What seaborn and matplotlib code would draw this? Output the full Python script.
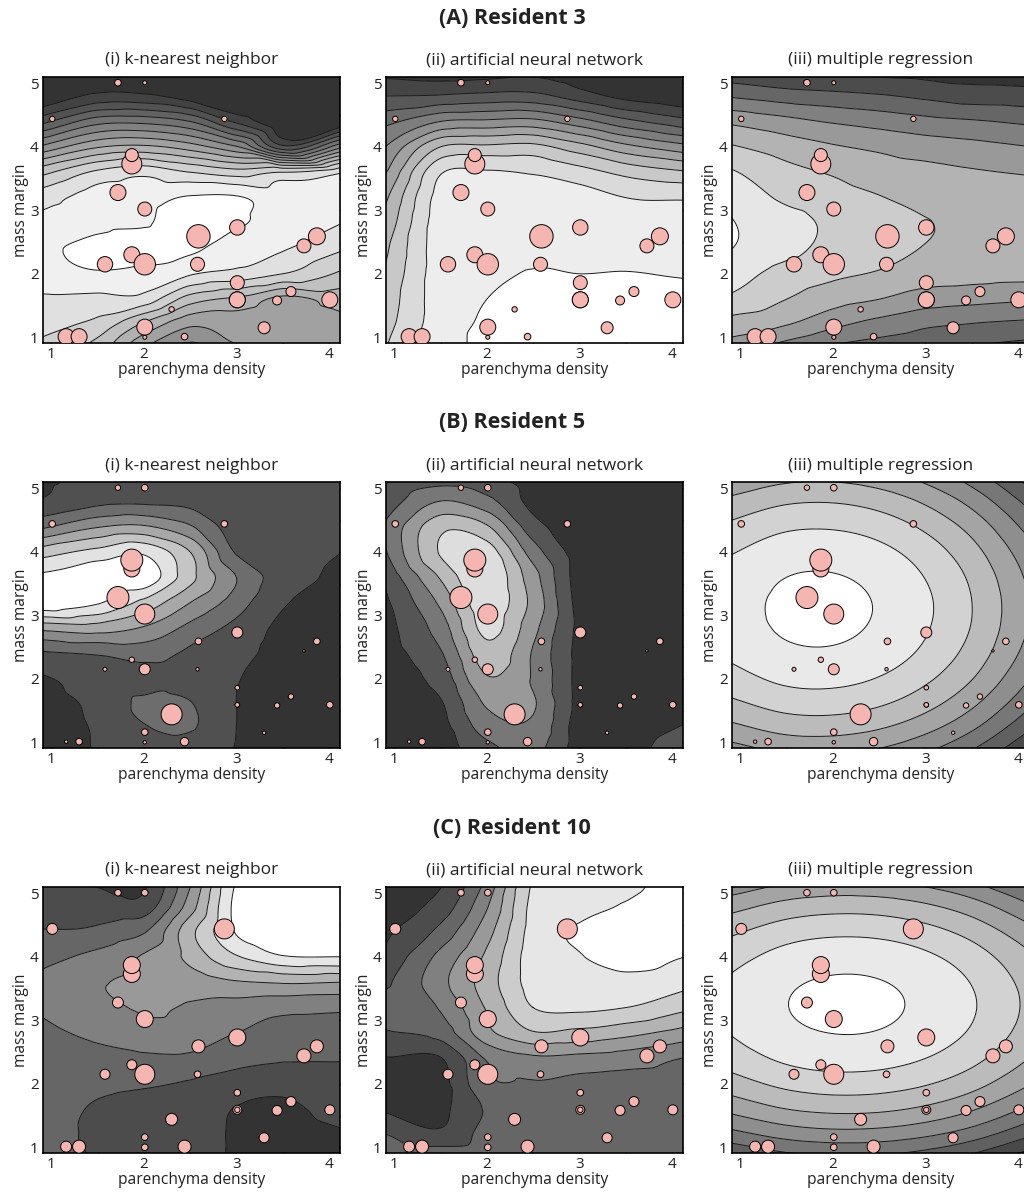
import numpy as np
import pandas as pd
import seaborn as sns
import matplotlib
matplotlib.use("Agg")
import matplotlib.pyplot as plt
import matplotlib.tri as mtri
from matplotlib.ticker import MultipleLocator

sns.set_theme(style="white")
plt.rcParams["font.family"] = ["Open Sans", "DejaVu Sans"]

# nodes of the read-off surface grids
grid_x = [0.9, 1.5, 2.0, 2.5, 3.0, 3.5, 4.15]
grid_y = [0.9, 1.25, 1.6, 2.0, 2.4, 2.8, 3.2, 3.6, 4.0, 4.4, 4.8, 5.15]

# cases (same in every panel)
density = [1.72, 2.01, 1.01, 2.87, 1.87, 1.87, 1.72, 2.01, 2.59, 3.01, 1.58, 1.87, 2.01, 2.58, 3.73,
           3.87, 3.01, 3.01, 3.01, 3.44, 3.59, 4.01, 2.30, 2.01, 2.01, 2.44, 3.30, 1.16, 1.30]
margin = [5.01, 5.01, 4.44, 4.44, 3.73, 3.87, 3.28, 3.02, 2.59, 2.73, 2.15, 2.30, 2.15, 2.15, 2.44,
          2.59, 1.86, 1.59, 1.59, 1.58, 1.72, 1.59, 1.44, 1.16, 1.00, 1.01, 1.15, 1.01, 1.01]

# marker radius (px) per resident
radius_res3 = [3.3, 2.0, 2.7, 2.7, 10, 6.5, 8, 7, 11.7, 7.7, 7.7, 8, 10.7, 7, 7,
               8.5, 7, 8, 8, 4.5, 5, 8, 2.7, 8, 2.0, 3.3, 6, 8, 8]
radius_res5 = [2.7, 3.3, 3.3, 3.3, 8, 11, 11, 10, 3.3, 5.5, 2.0, 2.7, 5.5, 1.7, 1.2,
               3.3, 2.3, 2.3, 2.3, 2.7, 2.7, 3.3, 10.5, 3.3, 1.7, 4.2, 1.7, 1.7, 3.3]
radius_res10 = [3.3, 3.3, 5.5, 10, 8.5, 8.5, 5.5, 8.5, 6.5, 8.5, 5, 5, 10, 3.3, 7,
                6.5, 3.3, 4.5, 2.7, 5, 5, 5, 6, 3.3, 3.3, 6.5, 5, 5.5, 6.5]

# surfaces in band units (rows = grid_y bottom->top, cols = grid_x)
knn_res3 = [
    [10.3, 9.2, 6.8, 5.4, 6.5, 6.8, 7.5],
    [10.9, 10.3, 8.6, 6.9, 7.0, 6.8, 7.4],
    [11.35, 11.2, 11.1, 9.0, 8.3, 7.2, 7.9],
    [12.0, 12.4, 12.2, 11.6, 11.2, 10.5, 9.3],
    [12.3, 12.8, 13.0, 12.7, 11.9, 11.6, 10.6],
    [11.8, 12.2, 12.4, 13.1, 12.6, 12.2, 11.5],
    [11.05, 12.0, 12.1, 12.6, 12.6, 12.0, 12.0],
    [9.2, 10.7, 11.2, 10.5, 9.95, 10.5, 11.4],
    [5.7, 7.4, 7.7, 7.0, 5.6, 1.8, 5.4],
    [2.2, 4.1, 4.2, 3.5, 1.3, -0.5, -0.3],
    [-0.4, 0.75, 0.7, 0.0, -0.8, -0.8, -0.8],
    [-0.8, -0.5, -0.6, -0.8, -1.0, -0.8, -0.8],
]
ann_res3 = [
    [8.4, 10.0, 10.8, 11.4, 11.5, 11.5, 11.5],
    [8.1, 10.0, 10.65, 11.3, 11.4, 11.4, 11.3],
    [7.9, 10.0, 10.5, 11.1, 11.1, 11.1, 11.0],
    [7.6, 10.0, 10.2, 10.6, 10.5, 10.55, 10.4],
    [7.3, 10.0, 10.0, 10.1, 10.1, 10.1, 10.1],
    [6.8, 10.0, 10.0, 10.0, 10.0, 9.9, 9.8],
    [6.3, 9.9, 10.0, 10.0, 9.9, 9.5, 9.4],
    [5.4, 9.4, 9.6, 9.4, 8.9, 8.2, 7.6],
    [4.5, 7.5, 7.7, 7.8, 6.9, 5.8, 4.8],
    [3.2, 4.5, 4.7, 4.8, 3.9, 2.8, 1.8],
    [1.5, 1.6, 1.8, 1.8, 1.0, 0.2, -0.3],
    [0.2, 0.0, 0.1, 0.3, -0.2, -0.5, -0.6],
]
mr_res3 = [
    [4.2, 3.3, 2.6, 2.2, 1.9, 1.6, 1.3],
    [5.2, 4.7, 3.9, 3.3, 2.8, 2.6, 2.4],
    [6.3, 5.5, 4.9, 4.5, 4.0, 3.8, 3.6],
    [7.0, 6.1, 5.7, 5.4, 5.0, 4.9, 4.8],
    [7.52, 6.8, 6.2, 5.9, 5.45, 5.2, 5.1],
    [7.55, 6.9, 6.3, 6.0, 5.55, 5.3, 5.2],
    [7.2, 6.3, 5.9, 5.55, 5.2, 5.1, 5.0],
    [6.6, 5.8, 5.4, 5.0, 4.8, 4.6, 4.4],
    [5.6, 5.0, 4.6, 4.3, 4.0, 3.8, 3.5],
    [4.3, 3.8, 3.4, 3.1, 2.8, 2.6, 2.3],
    [2.4, 2.0, 1.8, 1.6, 1.3, 1.0, 0.9],
    [0.9, 0.5, 0.4, 0.3, 0.2, 0.1, 0.0],
]
knn_res5 = [
    [0.2, 0.55, 1.0, 1.0, 0.45, 0.1, 0.1],
    [0.2, 0.6, 1.45, 1.6, 0.5, 0.1, 0.1],
    [0.25, 0.7, 1.7, 1.55, 0.5, 0.1, 0.1],
    [0.4, 0.9, 1.1, 1.1, 0.55, 0.15, 0.1],
    [1.35, 1.6, 1.9, 1.3, 0.8, 0.2, 0.15],
    [3.8, 4.0, 3.4, 2.2, 1.2, 0.3, 0.2],
    [7.3, 6.6, 5.2, 3.5, 2.0, 0.6, 0.25],
    [6.7, 7.3, 7.2, 4.8, 2.5, 1.0, 0.3],
    [5.0, 5.8, 6.3, 4.5, 1.4, 0.9, 0.5],
    [2.3, 3.4, 3.6, 2.6, 1.0, 0.9, 0.8],
    [0.6, 1.2, 1.3, 1.2, 0.9, 0.9, 0.9],
    [0.3, 0.8, 0.9, 0.9, 0.8, 0.9, 0.9],
]
ann_res5 = [
    [0.05, 0.1, 1.2, 1.8, 0.1, 0.2, 1.0],
    [0.05, 0.2, 2.0, 2.3, 0.1, 0.1, 0.55],
    [0.05, 0.4, 2.6, 2.6, 0.25, 0.1, 0.2],
    [0.05, 0.9, 3.4, 2.4, 0.25, 0.1, 0.1],
    [0.05, 1.4, 4.1, 2.4, 0.25, 0.1, 0.1],
    [0.1, 2.0, 4.8, 2.8, 0.3, 0.1, 0.1],
    [0.3, 2.7, 5.1, 3.2, 0.2, 0.1, 0.1],
    [0.7, 3.6, 5.3, 2.9, 0.1, 0.1, 0.1],
    [1.4, 4.6, 5.0, 2.0, 0.1, 0.1, 0.1],
    [1.6, 4.2, 3.6, 0.9, 0.1, 0.1, 0.1],
    [0.9, 2.5, 1.8, 0.2, 0.1, 0.1, 0.1],
    [0.3, 1.0, 0.7, 0.1, 0.1, 0.1, 0.1],
]
mr_res5 = [
    [4.15, 4.77, 4.83, 4.49, 3.74, 2.59, 0.48],
    [5.30, 5.92, 5.98, 5.64, 4.89, 3.74, 1.63],
    [6.26, 6.87, 6.94, 6.60, 5.85, 4.69, 2.59],
    [7.10, 7.72, 7.78, 7.44, 6.69, 5.54, 3.43],
    [7.69, 8.30, 8.37, 8.03, 7.28, 6.12, 4.02],
    [8.01, 8.63, 8.69, 8.35, 7.60, 6.45, 4.34],
    [8.08, 8.69, 8.76, 8.42, 7.67, 6.51, 4.41],
    [7.88, 8.50, 8.56, 8.22, 7.47, 6.32, 4.21],
    [7.43, 8.04, 8.11, 7.77, 7.02, 5.86, 3.76],
    [6.71, 7.33, 7.39, 7.05, 6.30, 5.15, 3.04],
    [5.74, 6.35, 6.42, 6.08, 5.33, 4.17, 2.07],
    [4.67, 5.28, 5.35, 5.01, 4.26, 3.11, 1.00],
]
knn_res10 = [
    [2.0, 1.4, 1.1, 1.1, 0.35, 0.1, 0.2],
    [2.0, 1.3, 1.1, 1.1, 0.35, 0.15, 0.45],
    [1.9, 1.4, 1.2, 1.2, 0.45, 0.3, 0.9],
    [1.8, 1.7, 1.6, 1.4, 1.1, 0.8, 1.2],
    [2.0, 2.2, 2.3, 2.3, 1.8, 1.6, 1.55],
    [2.3, 2.7, 3.2, 3.1, 2.5, 2.1, 2.0],
    [2.6, 3.2, 3.6, 3.4, 3.1, 2.8, 2.7],
    [2.7, 3.4, 3.7, 3.9, 4.4, 4.6, 4.5],
    [2.2, 2.8, 3.6, 4.8, 6.4, 7.4, 7.5],
    [1.55, 1.7, 2.4, 5.2, 7.6, 8.6, 8.6],
    [1.2, 1.0, 0.9, 4.0, 7.8, 8.7, 8.7],
    [1.1, 0.4, 0.3, 3.4, 7.6, 8.7, 8.7],
]
ann_res10 = [
    [2.3, 2.0, 2.0, 1.8, 1.8, 1.8, 1.9],
    [1.4, 0.6, 1.8, 1.8, 1.8, 1.8, 1.9],
    [0.4, 0.3, 1.6, 1.9, 1.9, 1.9, 2.0],
    [0.2, 0.2, 2.3, 2.4, 2.2, 2.1, 2.1],
    [0.45, 0.45, 2.6, 3.3, 3.2, 3.0, 2.45],
    [1.4, 1.9, 4.2, 5.4, 5.2, 4.8, 4.1],
    [1.9, 2.6, 4.6, 6.5, 6.7, 6.5, 5.7],
    [1.3, 3.2, 5.0, 6.9, 7.1, 7.2, 6.8],
    [0.7, 2.8, 4.7, 7.0, 7.45, 7.9, 7.5],
    [0.3, 1.8, 4.1, 6.9, 7.6, 8.1, 8.3],
    [0.1, 0.9, 3.4, 6.8, 7.2, 7.6, 8.6],
    [0.0, 0.4, 2.8, 6.6, 7.0, 7.1, 8.6],
]
mr_res10 = [
    [1.69, 2.41, 2.66, 2.60, 2.22, 1.52, 0.15],
    [3.36, 4.08, 4.34, 4.27, 3.89, 3.20, 1.82],
    [4.77, 5.49, 5.74, 5.68, 5.30, 4.60, 3.23],
    [6.04, 6.76, 7.02, 6.95, 6.58, 5.88, 4.51],
    [6.97, 7.69, 7.94, 7.88, 7.50, 6.80, 5.43],
    [7.54, 8.26, 8.51, 8.45, 8.07, 7.38, 6.00],
    [7.76, 8.48, 8.73, 8.67, 8.29, 7.60, 6.22],
    [7.63, 8.35, 8.60, 8.54, 8.16, 7.46, 6.09],
    [7.14, 7.86, 8.12, 8.05, 7.68, 6.98, 5.61],
    [6.31, 7.03, 7.28, 7.22, 6.84, 6.14, 4.77],
    [5.12, 5.84, 6.09, 6.03, 5.65, 4.96, 3.58],
    [3.79, 4.51, 4.76, 4.70, 4.32, 3.63, 2.25],
]

groups = ["(A) Resident 3", "(B) Resident 5", "(C) Resident 10"]
methods = ["(i) k-nearest neighbor", "(ii) artificial neural network", "(iii) multiple regression"]
surfaces = [[knn_res3, ann_res3, mr_res3],
            [knn_res5, ann_res5, mr_res5],
            [knn_res10, ann_res10, mr_res10]]
n_bands = [[13, 11, 8], [7, 6, 9], [8, 8, 9]]
radii = [radius_res3, radius_res5, radius_res10]

fig = plt.figure(figsize=(10.24, 11.93), dpi=100)

col_left = [43, 386, 732]
row_top = [77, 482, 887]
group_y = [18, 423, 828]
W, H = 1024, 1193

gx, gy = np.meshgrid(grid_x, grid_y)
tri = mtri.Triangulation(gx.ravel(), gy.ravel())
refiner = mtri.UniformTriRefiner(tri)


def draw_panel(ax, z, k, rad, title):
    z = np.asarray(z, dtype=float).ravel()
    interp = mtri.CubicTriInterpolator(tri, z, kind="geom")
    tri_f, z_f = refiner.refine_field(z, triinterpolator=interp, subdiv=4)
    bounds = [-50] + [i + 0.5 for i in range(k)] + [50]
    shades = [plt.cm.gray(0.2 + 0.8 * i / k) for i in range(k + 1)]
    ax.tricontourf(tri_f, z_f, levels=bounds, colors=shades)
    ax.tricontour(tri_f, z_f, levels=bounds[1:-1], colors="k", linewidths=0.7)

    pts = pd.DataFrame({"density": density, "margin": margin,
                        "area": [(1.44 * r) ** 2 for r in rad]})
    lo, hi = pts["area"].min(), pts["area"].max()
    sns.scatterplot(data=pts, x="density", y="margin", size="area",
                    sizes=(lo, hi), size_norm=(lo, hi), color="#f5b5b0",
                    edgecolor="black", linewidth=0.7, legend=False, ax=ax, zorder=3)

    ax.set_xlim(0.91, 4.12)
    ax.set_ylim(0.91, 5.1)
    ax.xaxis.set_major_locator(MultipleLocator(1))
    ax.yaxis.set_major_locator(MultipleLocator(1))
    ax.xaxis.set_minor_locator(MultipleLocator(0.5))
    ax.yaxis.set_minor_locator(MultipleLocator(0.5))
    ax.tick_params(which="both", direction="in", top=True, right=True,
                   bottom=True, left=True, colors="black", labelsize=11, pad=3)
    ax.tick_params(which="major", length=4, width=0.8)
    ax.tick_params(which="minor", length=3, width=0.8)
    for lab in ax.get_xticklabels() + ax.get_yticklabels():
        lab.set_color("#222222")
    for sp in ax.spines.values():
        sp.set_visible(True)
        sp.set_color("black")
        sp.set_linewidth(1.2)
    ax.set_xlabel("parenchyma density", fontsize=11.2, labelpad=0, color="#222222")
    ax.set_ylabel("mass margin", fontsize=11.2, labelpad=1, color="#222222")
    ax.set_title(title, fontsize=12.5, pad=9, color="#222222")


for r in range(3):
    fig.text(0.5, 1 - group_y[r] / H, groups[r], ha="center", va="center",
             fontsize=15.5, fontweight="bold", color="#222222")
    for c in range(3):
        ax = fig.add_axes([col_left[c] / W, 1 - (row_top[r] + 266) / H, 297 / W, 266 / H])
        draw_panel(ax, surfaces[r][c], n_bands[r][c], radii[r], methods[c])

fig.savefig("out.png", dpi=100)
